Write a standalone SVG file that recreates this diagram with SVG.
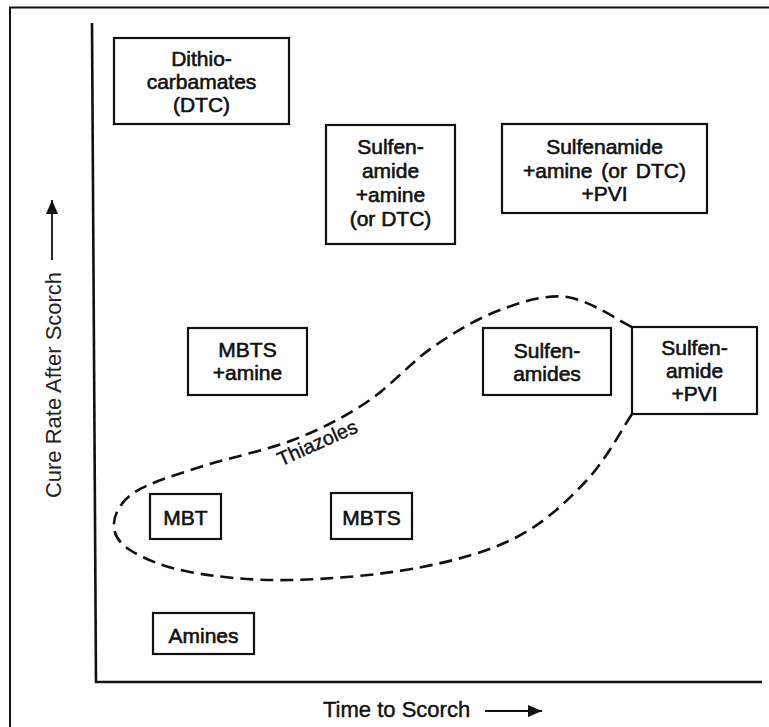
<svg xmlns="http://www.w3.org/2000/svg" width="769" height="727" viewBox="0 0 769 727">
<style>
.box{fill:#fff;stroke:#111;stroke-width:2.2}
.lbl{font-family:"Liberation Sans",Arial,sans-serif;font-size:21px;fill:#111;stroke:#111;stroke-width:0.6;text-anchor:middle}
.ax{stroke:#111;stroke-width:2.6;fill:none}
.axl{font-family:"Liberation Sans",Arial,sans-serif;font-size:22px;fill:#222}
.dash{fill:none;stroke:#111;stroke-width:2.6;stroke-dasharray:13 7}
</style>
<defs>
<marker id="ah" viewBox="0 0 14 12" refX="14" refY="6" markerWidth="14" markerHeight="12" markerUnits="userSpaceOnUse" orient="auto">
<path d="M0,0 L14,6 L0,12 Z" fill="#111"/>
</marker>
</defs>
<rect x="0" y="0" width="769" height="727" fill="#fff"/>
<rect x="10" y="7.5" width="780" height="740" fill="none" stroke="#111" stroke-width="2"/>
<g id="axes">
<line class="ax" x1="92" y1="23" x2="96" y2="683"/>
<line class="ax" x1="95" y1="682" x2="762" y2="682"/>
<line x1="52" y1="260" x2="52" y2="200" stroke="#111" stroke-width="1.8" marker-end="url(#ah)"/>
<text class="axl" transform="translate(61,385) rotate(-90)" text-anchor="middle">Cure Rate After Scorch</text>
<line x1="485" y1="711" x2="542" y2="711" stroke="#111" stroke-width="1.8" marker-end="url(#ah)"/>
<text class="axl" x="323" y="717" style="fill:#111;stroke:#111;stroke-width:0.4">Time to Scorch</text>
</g>
<g id="connectors">
<path id="thiazoles-region" class="dash" d="M632,414 C624.5,425 606.2,459.5 587,480 C567.8,500.5 545.3,522.3 517,537 C488.7,551.7 454.8,560.8 417,568 C379.2,575.2 327.8,579.3 290,580 C252.2,580.7 216.7,577 190,572 C163.3,567 142.7,558.2 130,550 C117.3,541.8 113.2,532.7 114,523 C114.8,513.3 120.7,501.3 135,492 C149.3,482.7 173.7,475.7 200,467 C226.3,458.3 265.2,450.8 293,440 C320.8,429.2 343.7,417.5 367,402 C390.3,386.5 410.8,362.3 433,347 C455.2,331.7 477.7,318.3 500,310 C522.3,301.7 545,294.2 567,297 C589,299.8 621.2,322 632,327"/>
<text class="lbl" transform="translate(320,449) rotate(-24)" style="font-size:20px;stroke-width:0.4">Thiazoles</text>
</g>
<g id="dtc">
<rect class="box" x="114" y="38" width="175" height="86"/>
<text class="lbl" x="201.5" y="66">Dithio-</text>
<text class="lbl" x="201.5" y="89">carbamates</text>
<text class="lbl" x="201.5" y="112">(DTC)</text>
</g>
<g id="sulfenamide-amine">
<rect class="box" x="326" y="125" width="129" height="119"/>
<text class="lbl" x="390.5" y="154">Sulfen-</text>
<text class="lbl" x="390.5" y="178">amide</text>
<text class="lbl" x="390.5" y="202">+amine</text>
<text class="lbl" x="390.5" y="226">(or DTC)</text>
</g>
<g id="sulfenamide-amine-pvi">
<rect class="box" x="502" y="124" width="205" height="89"/>
<text class="lbl" x="604.5" y="154">Sulfenamide</text>
<text class="lbl" x="604.5" y="178" word-spacing="3">+amine (or DTC)</text>
<text class="lbl" x="604.5" y="201">+PVI</text>
</g>
<g id="mbts-amine">
<rect class="box" x="188" y="328" width="119" height="67"/>
<text class="lbl" x="247.5" y="357">MBTS</text>
<text class="lbl" x="247.5" y="380">+amine</text>
</g>
<g id="sulfenamides">
<rect class="box" x="483" y="328" width="128" height="67"/>
<text class="lbl" x="547" y="358">Sulfen-</text>
<text class="lbl" x="547" y="381">amides</text>
</g>
<g id="sulfenamide-pvi">
<rect class="box" x="632" y="327" width="125" height="87"/>
<text class="lbl" x="694.5" y="355">Sulfen-</text>
<text class="lbl" x="694.5" y="378">amide</text>
<text class="lbl" x="694.5" y="401">+PVI</text>
</g>
<g id="mbt">
<rect class="box" x="150" y="494" width="71" height="45"/>
<text class="lbl" x="185.5" y="525">MBT</text>
</g>
<g id="mbts">
<rect class="box" x="331" y="493" width="81" height="46"/>
<text class="lbl" x="371.5" y="525">MBTS</text>
</g>
<g id="amines">
<rect class="box" x="153" y="613" width="101" height="41"/>
<text class="lbl" x="203.5" y="643">Amines</text>
</g>
</svg>
